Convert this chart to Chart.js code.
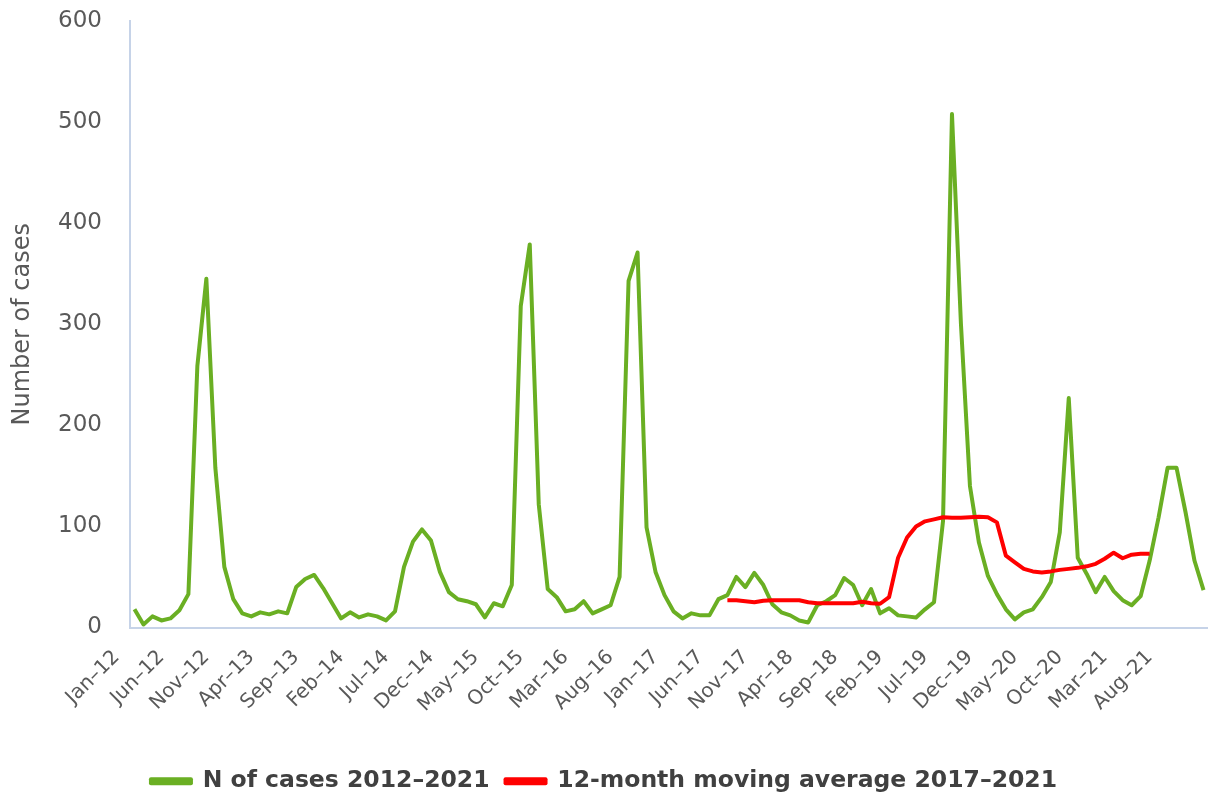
<!DOCTYPE html>
<html>
<head>
<meta charset="utf-8">
<script src="https://cdn.jsdelivr.net/npm/chart.js@4.4.1/dist/chart.umd.min.js"></script>
<style>
  html, body { margin: 0; padding: 0; background: #ffffff; overflow: hidden; }
  canvas { display: block; }
</style>
</head>
<body>
<canvas id="c" width="1208" height="794"></canvas>
<script>
// Category labels: monthly, Jan-12 .. Dec-21
const monthNames = ['Jan','Feb','Mar','Apr','May','Jun','Jul','Aug','Sep','Oct','Nov','Dec'];
const years = ['12','13','14','15','16','17','18','19','20','21'];
const categories = [];
years.forEach(y => monthNames.forEach(m => categories.push(m + '\u2013' + y)));

// N of cases 2012-2021 (monthly)
const casesValues = [
  18, 3, 11, 7, 9, 17, 33, 259, 345, 158,
  60, 28, 14, 11, 15, 13, 16, 14, 40, 48,
  52, 39, 24, 9, 15, 10, 13, 11, 7, 16,
  60, 85, 97, 86, 55, 35, 28, 26, 23, 10,
  24, 21, 42, 318, 379, 122, 38, 30, 16, 18,
  26, 14, 18, 22, 50, 343, 371, 99, 55, 32,
  16, 9, 14, 12, 12, 28, 32, 50, 40, 54,
  42, 23, 15, 12, 7, 5, 22, 26, 32, 49,
  42, 22, 38, 14, 19, 12, 11, 10, 18, 25,
  105, 508, 300, 140, 84, 51, 33, 18, 8, 15,
  18, 30, 45, 94, 227, 69, 53, 35, 50, 36,
  27, 22, 31, 66, 109, 158, 158, 114, 66, 37
];

// 12-month moving average 2017-2021 (Jul-17 .. Jun-21)
const movingAvgValues = [
  27, 27, 26, 25, 26.5, 27, 27, 27, 27, 25,
  24, 24, 24, 24, 24, 25.5, 24, 23.5, 30, 69,
  89, 100, 105, 107, 109, 108.5, 108.5, 109, 109.5, 109,
  104, 71, 64.5, 58, 55.5, 54.5, 55.5, 57, 58, 59,
  60.5, 63, 68, 74, 68.5, 72, 73, 73
];
const movingAvgStart = 66; // index of Jul-17

const yTicks = [0, 100, 200, 300, 400, 500, 600];

const movingAvgSeries = categories.map((_, i) => {
  const k = i - movingAvgStart;
  return (k >= 0 && k < movingAvgValues.length) ? movingAvgValues[k] : null;
});

const FONT = "'DejaVu Sans', Verdana, sans-serif";
const GREEN = '#6aaf23';
const RED = '#ff0000';
const TXT = '#595959';
const AXIS = '#c6d3e8';

new Chart(document.getElementById('c'), {
  type: 'line',
  data: {
    labels: categories,
    datasets: [
      {
        label: 'N of cases 2012\u20132021',
        data: casesValues,
        borderColor: GREEN,
        backgroundColor: GREEN,
        borderWidth: 4,
        pointRadius: 0,
        tension: 0,
        borderJoinStyle: 'round',
        order: 2
      },
      {
        label: '12-month moving average 2017\u20132021',
        data: movingAvgSeries,
        borderColor: RED,
        backgroundColor: RED,
        borderWidth: 4,
        pointRadius: 0,
        tension: 0,
        spanGaps: false,
        borderJoinStyle: 'round',
        order: 1
      }
    ]
  },
  options: {
    responsive: false,
    animation: false,
    layout: { padding: { left: 0, right: 0, top: 0, bottom: -9 } },
    plugins: {
      tooltip: { enabled: false },
      legend: {
        position: 'bottom',
        labels: {
          font: { family: FONT, size: 23.5, weight: 'bold' },
          color: '#404040',
          boxWidth: 40,
          boxHeight: 4,
          padding: 16,
          sort: (a, b) => a.datasetIndex - b.datasetIndex
        }
      }
    },
    scales: {
      x: {
        type: 'category',
        offset: true,
        grid: { display: false, drawTicks: false },
        border: { display: true, color: AXIS, width: 2 },
        ticks: {
          autoSkip: false,
          maxRotation: 45,
          minRotation: 45,
          padding: 18,
          labelOffset: -18,
          color: TXT,
          font: { family: FONT, size: 20 },
          callback: function (value, index) {
            return index % 5 === 0 ? categories[index] : null;
          }
        },
        afterFit: function (axis) { axis.height = 126; }
      },
      y: {
        min: 0,
        max: 600,
        afterBuildTicks: function (axis) { axis.ticks = yTicks.map(v => ({ value: v })); },
        grid: { display: false, drawTicks: false },
        border: { display: true, color: AXIS, width: 2 },
        ticks: {
          padding: 28,
          color: TXT,
          font: { family: FONT, size: 23 }
        },
        title: {
          display: true,
          text: 'Number of cases',
          color: TXT,
          font: { family: FONT, size: 24 },
          padding: { top: 8, bottom: 0 }
        },
        afterFit: function (axis) {
          axis.width = 130;
          axis.paddingTop = 21;
          axis.paddingBottom = 0;
        }
      }
    }
  }
});
</script>
</body>
</html>
